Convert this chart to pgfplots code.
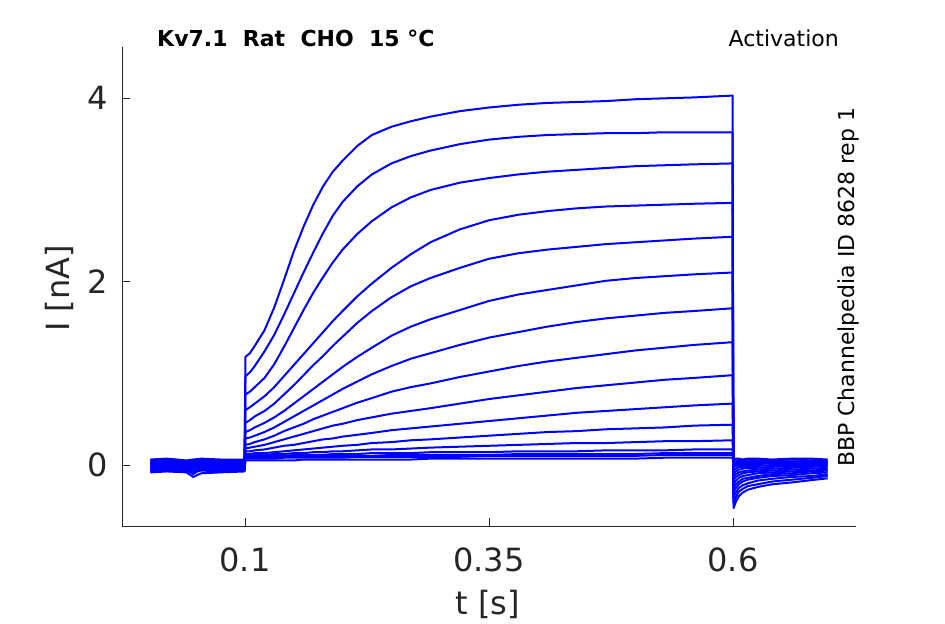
\documentclass[border=0pt]{standalone}
\usepackage{pgfplots}
\pgfplotsset{compat=1.18}
\usepackage{pgfplotstable}
\usepackage{fontspec}
\setmainfont{DejaVu Sans}
\definecolor{axgray}{HTML}{262626}
\pgfplotstableread{
t y1 y2 y3 y4 y5 y6 y7 y8 y9 y10 y11 y12 y13 y14 y15 y16
0.003 -0.02 0.01 -0.05 0.03 -0.07 0.00 0.05 -0.03 0.02 -0.06 0.04 -0.01 0.06 -0.04 0.03 -0.08
0.02 -0.01 0.02 -0.04 0.04 -0.06 0.01 0.06 -0.02 0.03 -0.05 0.05 0.00 0.07 -0.03 0.02 -0.07
0.04 -0.03 0.00 -0.06 0.02 -0.07 -0.01 0.04 -0.04 0.01 -0.06 0.03 -0.02 0.05 -0.05 0.04 -0.08
0.047 -0.02 0.01 -0.05 0.03 -0.08 0.00 0.05 -0.03 0.02 -0.07 0.04 -0.01 0.06 -0.10 0.03 -0.13
0.055 -0.01 0.02 -0.04 0.04 -0.06 0.01 0.06 -0.02 0.03 -0.05 0.05 0.00 0.07 -0.04 0.02 -0.09
0.075 -0.02 0.01 -0.05 0.03 -0.07 0.00 0.05 -0.03 0.02 -0.06 0.04 -0.01 0.06 -0.04 0.03 -0.08
0.0995 -0.01 0.02 -0.04 0.03 -0.06 0.01 0.05 -0.02 0.02 -0.05 0.04 0.00 0.06 -0.03 0.03 -0.07
0.1005 1.18 0.97 0.77 0.60 0.46 0.36 0.29 0.22 0.18 0.15 0.12 0.10 0.09 0.08 0.07 0.05
0.105 1.22 1.01 0.80 0.63 0.49 0.38 0.30 0.23 0.19 0.15 0.12 0.10 0.09 0.08 0.07 0.05
0.11 1.30 1.08 0.85 0.67 0.53 0.41 0.32 0.25 0.20 0.16 0.13 0.11 0.09 0.08 0.07 0.05
0.12 1.47 1.24 0.95 0.75 0.59 0.46 0.36 0.28 0.22 0.17 0.13 0.11 0.10 0.08 0.07 0.05
0.13 1.72 1.42 1.10 0.85 0.67 0.52 0.41 0.32 0.25 0.19 0.14 0.12 0.10 0.09 0.07 0.05
0.14 2.02 1.64 1.29 0.97 0.77 0.59 0.47 0.37 0.28 0.21 0.15 0.12 0.10 0.09 0.08 0.05
0.15 2.33 1.87 1.49 1.09 0.87 0.67 0.53 0.41 0.31 0.22 0.16 0.13 0.11 0.09 0.08 0.05
0.16 2.60 2.10 1.69 1.21 0.98 0.75 0.59 0.45 0.34 0.24 0.17 0.13 0.11 0.09 0.08 0.06
0.17 2.84 2.32 1.88 1.33 1.09 0.83 0.65 0.50 0.37 0.26 0.18 0.14 0.11 0.09 0.08 0.06
0.18 3.04 2.53 2.05 1.45 1.19 0.91 0.71 0.54 0.40 0.28 0.19 0.14 0.11 0.10 0.08 0.06
0.19 3.20 2.72 2.21 1.57 1.30 0.99 0.77 0.58 0.43 0.29 0.20 0.15 0.12 0.10 0.08 0.06
0.20 3.32 2.87 2.35 1.68 1.40 1.07 0.83 0.62 0.45 0.31 0.21 0.15 0.12 0.10 0.08 0.06
0.215 3.48 3.04 2.52 1.84 1.55 1.18 0.91 0.68 0.49 0.33 0.22 0.16 0.12 0.10 0.09 0.06
0.23 3.60 3.17 2.66 1.98 1.68 1.28 0.99 0.73 0.52 0.35 0.24 0.17 0.13 0.10 0.09 0.06
0.25 3.69 3.29 2.81 2.15 1.83 1.41 1.08 0.80 0.56 0.38 0.25 0.17 0.13 0.11 0.09 0.06
0.27 3.75 3.37 2.92 2.30 1.95 1.51 1.16 0.85 0.59 0.40 0.27 0.18 0.13 0.11 0.09 0.06
0.29 3.80 3.43 3.00 2.43 2.04 1.59 1.22 0.89 0.62 0.42 0.28 0.19 0.14 0.11 0.09 0.07
0.32 3.86 3.50 3.08 2.57 2.15 1.69 1.31 0.96 0.67 0.45 0.30 0.20 0.14 0.11 0.09 0.07
0.35 3.90 3.55 3.13 2.67 2.25 1.79 1.39 1.02 0.72 0.48 0.32 0.21 0.14 0.11 0.10 0.07
0.38 3.93 3.58 3.17 2.73 2.31 1.86 1.45 1.08 0.76 0.51 0.34 0.22 0.15 0.12 0.10 0.07
0.41 3.95 3.60 3.20 2.77 2.35 1.91 1.51 1.13 0.80 0.54 0.36 0.23 0.15 0.12 0.10 0.07
0.44 3.96 3.61 3.22 2.80 2.38 1.96 1.56 1.17 0.84 0.57 0.37 0.24 0.15 0.12 0.10 0.07
0.47 3.97 3.62 3.24 2.82 2.41 2.01 1.60 1.21 0.87 0.59 0.39 0.24 0.16 0.12 0.10 0.07
0.50 3.99 3.62 3.26 2.83 2.43 2.04 1.63 1.25 0.90 0.61 0.40 0.25 0.16 0.12 0.10 0.07
0.53 4.00 3.63 3.27 2.84 2.45 2.06 1.66 1.28 0.93 0.63 0.41 0.26 0.16 0.13 0.11 0.08
0.56 4.01 3.63 3.28 2.85 2.47 2.08 1.68 1.31 0.95 0.65 0.43 0.26 0.17 0.13 0.11 0.08
0.5995 4.03 3.63 3.29 2.86 2.49 2.10 1.71 1.34 0.98 0.67 0.44 0.27 0.17 0.13 0.11 0.08
0.6005 -0.47 -0.41 -0.35 -0.30 -0.25 -0.21 -0.16 -0.12 -0.09 -0.05 -0.02 0.01 0.03 0.05 0.07 0.02
0.603 -0.40 -0.35 -0.30 -0.25 -0.21 -0.17 -0.13 -0.10 -0.07 -0.04 -0.01 0.01 0.03 0.05 0.07 0.02
0.606 -0.34 -0.29 -0.25 -0.21 -0.18 -0.14 -0.11 -0.08 -0.05 -0.02 0.00 0.02 0.04 0.05 0.07 0.03
0.61 -0.30 -0.26 -0.22 -0.18 -0.15 -0.12 -0.09 -0.07 -0.04 -0.02 0.00 0.02 0.04 0.05 0.06 0.02
0.615 -0.27 -0.23 -0.20 -0.16 -0.14 -0.11 -0.08 -0.06 -0.03 -0.01 0.01 0.02 0.04 0.06 0.07 0.02
0.625 -0.24 -0.21 -0.17 -0.14 -0.12 -0.09 -0.07 -0.05 -0.03 -0.01 0.01 0.03 0.04 0.05 0.07 0.03
0.64 -0.21 -0.18 -0.15 -0.12 -0.10 -0.08 -0.06 -0.04 -0.02 0.00 0.02 0.03 0.04 0.05 0.06 0.02
0.66 -0.19 -0.16 -0.13 -0.11 -0.09 -0.07 -0.05 -0.03 -0.01 0.00 0.02 0.03 0.04 0.06 0.07 0.02
0.68 -0.165 -0.14 -0.12 -0.09 -0.07 -0.06 -0.04 -0.02 -0.01 0.01 0.02 0.03 0.04 0.05 0.07 0.03
0.697 -0.145 -0.12 -0.10 -0.08 -0.06 -0.05 -0.03 -0.01 0.00 0.01 0.03 0.03 0.04 0.05 0.06 0.02
}\tracedata

\begin{document}
\begin{tikzpicture}
\useasboundingbox (0,0) rectangle (945bp,624bp);
\begin{axis}[
  at={(122bp,98bp)}, anchor=south west,
  scale only axis, width=734bp, height=479bp,
  xmin=-0.026, xmax=0.726, ymin=-0.665, ymax=4.56,
  axis x line=bottom, axis y line=left,
  axis line style={-, draw=axgray, line width=0.8bp},
  tick align=inside, major tick length=8bp,
  tick style={draw=axgray, line width=0.8bp},
  xtick={0.1,0.35,0.6}, xticklabels={0.1,0.35,0.6},
  ytick={0,2,4}, yticklabels={0,2,4},
  /pgf/number format/assume math mode=true,
  tick label style={font=\fontsize{32bp}{38bp}\selectfont, text=axgray, inner sep=0pt},
  xticklabel style={anchor=north, yshift=-22bp},
  yticklabel style={anchor=east, xshift=-14bp},
]
\pgfplotsinvokeforeach{1,...,16}{
  \addplot[blue, line width=2bp, line join=round] table[x index=0, y index=#1] {\tracedata};
}
\end{axis}
\node[anchor=base, inner sep=0pt, text=axgray, font=\fontsize{32bp}{38bp}\selectfont] at (488bp,10bp) {t [s]};
\node[anchor=base, rotate=90, inner sep=0pt, text=axgray, font=\fontsize{32bp}{38bp}\selectfont] at (69bp,335.5bp) {I [nA]};
\node[anchor=base west, inner sep=0pt, font=\fontsize{22bp}{26bp}\selectfont\bfseries] at (157bp,577.5bp) {Kv7.1\ \ Rat\ \ CHO\ \ 15 °C};
\node[anchor=base east, inner sep=0pt, font=\fontsize{22bp}{26bp}\selectfont] at (839bp,577.3bp) {Activation};
\node[anchor=base west, rotate=90, inner sep=0pt, font=\fontsize{22bp}{26bp}\selectfont] at (854bp,157bp) {BBP Channelpedia ID 8628 rep 1};
\end{tikzpicture}
\end{document}
